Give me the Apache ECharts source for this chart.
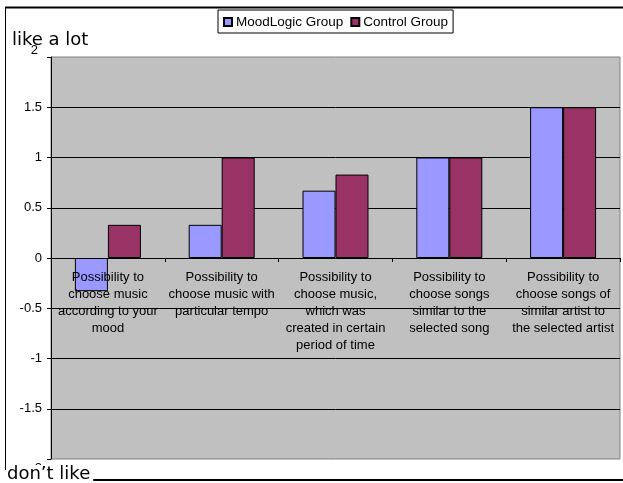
<!DOCTYPE html>
<html>
<head>
<meta charset="utf-8">
<script src="https://cdn.jsdelivr.net/npm/echarts@6/dist/echarts.min.js"></script>
<style>
  html, body { margin: 0; padding: 0; background: #fff; }
  #chart { width: 623px; height: 483px; }
</style>
</head>
<body>
<div id="chart"></div>
<script>
// Survey features (rated from "don't like" = -2 to "like a lot" = 2)
const categories = [
  'Possibility to\nchoose music\naccording to your\nmood',
  'Possibility to\nchoose music with\nparticular tempo',
  'Possibility to\nchoose music,\nwhich was\ncreated in certain\nperiod of time',
  'Possibility to\nchoose songs\nsimilar to the\nselected song',
  'Possibility to\nchoose songs of\nsimilar artist to\nthe selected artist'
];
const seriesNames = ['MoodLogic Group', 'Control Group'];
const moodLogicValues = [-0.33, 0.33, 0.67, 1, 1.5];
const controlValues = [0.33, 1, 0.83, 1, 1.5];
const yTicks = { min: -2, max: 2, step: 0.5 };

const FONT = 'Liberation Sans, Arial, sans-serif';
const GRID = { left: 51, top: 57, width: 569, height: 402 };
// the category axis sits on the zero line of the value scale
const zeroOffset = -GRID.height * (0 - yTicks.min) / (yTicks.max - yTicks.min);

const chart = echarts.init(document.getElementById('chart'), null, { renderer: 'canvas' });

chart.setOption({
  animation: false,
  backgroundColor: '#ffffff',
  legend: {
    data: seriesNames,
    left: 218,
    top: 10,
    padding: [5, 5, 4, 5],
    itemWidth: 8,
    itemHeight: 8,
    itemGap: 7,
    icon: 'rect',
    borderColor: '#000',
    borderWidth: 1,
    textStyle: { fontFamily: FONT, fontSize: 13.5, color: '#000', padding: [0, 0, 0, -1] }
  },
  grid: {
    left: GRID.left, top: GRID.top, width: GRID.width, height: GRID.height,
    outerBoundsMode: 'none',
    containLabel: false,
    show: true,
    backgroundColor: '#C0C0C0',
    borderColor: '#808080',
    borderWidth: 1
  },
  xAxis: {
    type: 'category',
    data: categories,
    position: 'bottom',
    offset: zeroOffset,
    z: 5,
    axisLine: { onZero: false, lineStyle: { color: '#000', width: 1 } },
    axisTick: { show: true, length: 4, inside: false, lineStyle: { color: '#000' } },
    axisLabel: {
      interval: 0,
      margin: 11,
      hideOverlap: false,
      fontFamily: FONT,
      fontSize: 13,
      lineHeight: 17,
      color: '#000',
      align: 'center'
    },
    splitLine: { show: false }
  },
  yAxis: {
    type: 'value',
    min: yTicks.min,
    max: yTicks.max,
    interval: yTicks.step,
    axisLine: { show: true, lineStyle: { color: '#000', width: 1 } },
    axisTick: { show: true, length: 4, lineStyle: { color: '#000' } },
    axisLabel: {
      margin: 9,
      fontFamily: FONT,
      fontSize: 13,
      color: '#000',
      formatter: function (v) {
        if (v === yTicks.max) return '{up|' + v + '}';
        if (v === yTicks.min) return '{down|' + v + '}';
        return String(v);
      },
      rich: {
        up: { fontFamily: FONT, fontSize: 13, color: '#000', padding: [0, 4, 14, 0] },
        down: { fontFamily: FONT, fontSize: 13, color: '#000', padding: [18, 0, 0, 0] }
      }
    },
    splitLine: {
      show: true,
      showMinLine: false,
      showMaxLine: false,
      lineStyle: { color: '#000', width: 1 }
    }
  },
  series: [
    {
      name: seriesNames[0],
      type: 'bar',
      data: moodLogicValues,
      barWidth: 33,
      barGap: '0%',
      itemStyle: { color: '#9999FF', borderColor: '#000', borderWidth: 1 }
    },
    {
      name: seriesNames[1],
      type: 'bar',
      data: controlValues,
      barWidth: 33,
      barGap: '0%',
      itemStyle: { color: '#993366', borderColor: '#000', borderWidth: 1 }
    }
  ],
  graphic: [
    // chart frame
    { type: 'line', shape: { x1: 5, y1: 7.5, x2: 623, y2: 7.5 }, style: { stroke: '#000', lineWidth: 2 }, z: 10 },
    { type: 'line', shape: { x1: 5.5, y1: 7, x2: 5.5, y2: 470 }, style: { stroke: '#000', lineWidth: 1 }, z: 10 },
    { type: 'line', shape: { x1: 90, y1: 480, x2: 623, y2: 480 }, style: { stroke: '#000', lineWidth: 2 }, z: 10 },
    // scale captions
    {
      type: 'text', left: 12, top: 31, z: 11,
      style: { text: 'like a lot', font: '18px "DejaVu Sans", sans-serif', fill: '#000' }
    },
    {
      type: 'text', left: 7, top: 465, z: 11,
      style: {
        text: 'don\u2019t like', font: '18px "DejaVu Sans", sans-serif', fill: '#000',
        backgroundColor: '#fff', padding: [0, 3, 0, 0]
      }
    }
  ]
});
</script>
</body>
</html>
